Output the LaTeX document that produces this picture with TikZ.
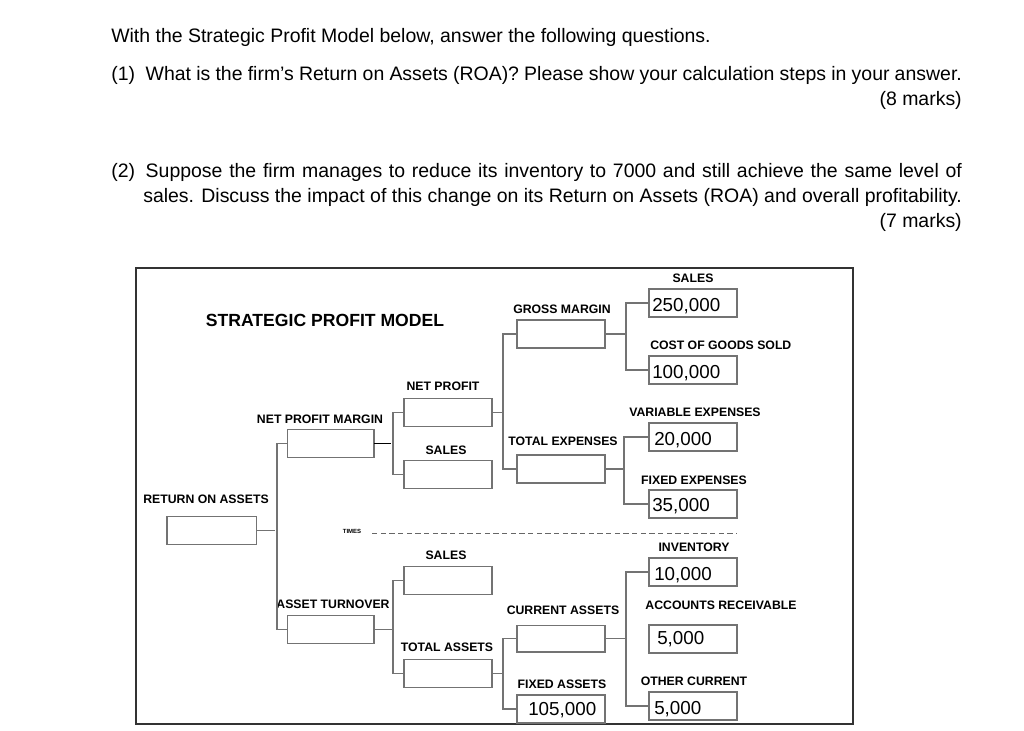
\documentclass[tikz,border=0pt]{standalone}
\usepackage{fontspec}
\setmainfont{Liberation Sans}
\begin{document}
\begin{tikzpicture}[x=0.75pt,y=-0.75pt,
  bx/.style={draw=black!55,line width=1pt,inner sep=0,outer sep=0,minimum width=66pt,minimum height=21pt},
  lb/.style={font=\fontsize{9.2}{10}\selectfont\bfseries,inner sep=0},
  val/.style={font=\fontsize{14.1}{15}\selectfont,inner sep=0,anchor=west},
  q/.style={font=\fontsize{14.6}{16}\selectfont,inner sep=0,anchor=base west},
  cn/.style={draw=black!55,line width=1pt}]
\useasboundingbox (0,0) rectangle (1024,731);
% questions
\node[q] (q0) at (111,43) {With the Strategic Profit Model below, answer the following questions.};
\node[q] (q1) at (111,81) {\makebox[638pt][s]{(1)\hspace{8pt}What is the firm’s Return on Assets (ROA)? Please show your calculation steps in your answer.}};
\node[q,anchor=base east] (m1) at (962,106) {(8 marks)};
\node[q] (q2) at (111,178) {\makebox[638pt][s]{(2)\hspace{8pt}Suppose the firm manages to reduce its inventory to 7000 and still achieve the same level of}};
\node[q] (q2b) at (143,202) {\makebox[614pt][s]{sales. Discuss the impact of this change on its Return on Assets (ROA) and overall profitability.}};
\node[q,anchor=base east] (m2) at (962,227) {(7 marks)};
% frame
\draw[black!80,line width=1pt] (136,268) rectangle (853,724);
% boxes
\node[bx,minimum width=67pt] (roa) at (211.5,530.5) {};
\node[bx,minimum width=65pt] (npm) at (330.5,443.5) {};
\node[bx,minimum width=65pt] (at) at (330.5,629.5) {};
\node[bx] (np) at (448,412.5) {};
\node[bx] (s1) at (448,474.5) {};
\node[bx] (s2) at (448,580.5) {};
\node[bx] (ta) at (448,673.5) {};
\node[bx] (gm) at (561,334) {};
\node[bx] (te) at (561,469) {};
\node[bx,minimum height=20pt] (ca) at (561,638.5) {};
\node[bx] (fa) at (561,709) {};
\node[bx] (sa) at (693,303) {};
\node[bx] (cg) at (693,370) {};
\node[bx] (ve) at (693,437) {};
\node[bx] (fe) at (693,504) {};
\node[bx] (iv) at (693,572) {};
\node[bx] (ar) at (693,639) {};
\node[bx] (oc) at (693,706) {};
% values
\node[val] (v1) at (652,306) {250,000};
\node[val] (v2) at (652,373) {100,000};
\node[val] (v3) at (654,440) {20,000};
\node[val] (v4) at (652,506) {35,000};
\node[val] (v5) at (654,575) {10,000};
\node[val] (v6) at (657,639) {5,000};
\node[val] (v7) at (654,709) {5,000};
\node[val] (v8) at (528,710) {105,000};
% labels
\node[font=\fontsize{13.2}{14}\selectfont\bfseries,inner sep=0] (title) at (325,320) {STRATEGIC PROFIT MODEL};
\node[lb] at (693,278) {SALES};
\node[lb] at (562,309) {GROSS MARGIN};
\node[lb,anchor=west] at (650,345) {COST OF GOODS SOLD};
\node[lb] at (443,386) {NET PROFIT};
\node[lb] at (695,412) {VARIABLE EXPENSES};
\node[lb] at (320,419) {NET PROFIT MARGIN};
\node[lb] at (563,441) {TOTAL EXPENSES};
\node[lb] at (446,450) {SALES};
\node[lb] at (694,480) {FIXED EXPENSES};
\node[lb] at (206,499) {RETURN ON ASSETS};
\node[lb] at (694,547) {INVENTORY};
\node[lb] at (446,555) {SALES};
\node[lb] at (333,604) {ASSET TURNOVER};
\node[lb] at (721,605) {ACCOUNTS RECEIVABLE};
\node[lb] at (563,610) {CURRENT ASSETS};
\node[lb] at (447,647) {TOTAL ASSETS};
\node[lb] at (562,684) {FIXED ASSETS};
\node[lb] at (694,681) {OTHER CURRENT};
\node[font=\fontsize{4.5}{5}\selectfont\bfseries,inner sep=0] (times) at (352,531) {TIMES};
\coordinate (dend) at (737,533);
\draw[black!60,dash pattern=on 4pt off 2.5pt] ([xshift=8pt]times.east|-dend) -- (dend);
% connectors
\draw[cn] (roa.east) -- ++(19,0);
\draw[cn] (npm.west) -| (277,530.5) |- (at.west);
\draw[cn,black] (npm.east) -- ++(17,0);
\draw[cn] (np.west) -| (393,443.5) |- (s1.west);
\draw[cn] (at.east) -- (393,629.5);
\draw[cn] (s2.west) -| (393,629.5) |- (ta.west);
\draw[cn] (np.east) -- (503,412.5);
\draw[cn] (gm.west) -| (503,412.5) |- (te.west);
\draw[cn] (ta.east) -- (503,673.5);
\draw[cn] (ca.west) -| (503,673.5) |- (fa.west);
\draw[cn] (gm.east) -- (626,334);
\draw[cn] (sa.west) -| (626,334) |- (cg.west);
\draw[cn] (te.east) -- (624,469);
\draw[cn] (ve.west) -| (624,469) |- (fe.west);
\draw[cn] (ca.east) -- (626,638.5);
\draw[cn] (iv.west) -| (626,638.5) |- (oc.west);
\end{tikzpicture}
\end{document}
